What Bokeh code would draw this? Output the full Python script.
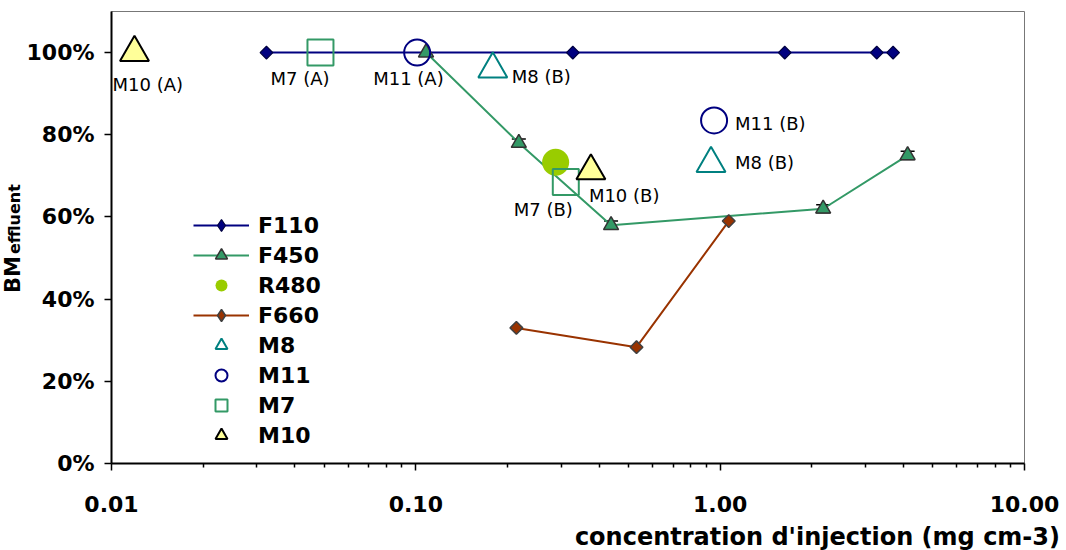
import numpy as np
from bokeh.plotting import figure
from bokeh.layouts import row, column
from bokeh.models import (ColumnDataSource, FixedTicker, NumeralTickFormatter, CustomJSTickFormatter,
                          Legend, LegendItem, Whisker, TeeHead, Range1d, Div)
from bokeh.core.properties import value
from bokeh.embed import file_html
from bokeh.resources import INLINE

# ---------------- data ----------------
f110_x = [0.0323, 0.328, 1.63, 3.27, 3.70]
f110_y = [1.00, 1.00, 1.00, 1.00, 1.00]

f450_x = [0.108, 0.218, 0.438, 2.18, 4.13]
f450_y = [1.00, 0.78, 0.58, 0.62, 0.75]
f450_err = [0.0, 0.010, 0.010, 0.010, 0.010]

f660_x = [0.214, 0.531, 1.067]
f660_y = [0.33, 0.283, 0.59]

r480_x = [0.288]
r480_y = [0.733]

m8_x = [0.179, 0.933]
m8_y = [0.96, 0.73]
m8_lab = ["M8 (B)", "M8 (B)"]

m11_x = [0.101, 0.955]
m11_y = [1.00, 0.835]
m11_lab = ["M11 (A)", "M11 (B)"]

m7_x = [0.0486, 0.311]
m7_y = [1.00, 0.685]
m7_lab = ["M7 (A)", "M7 (B)"]

m10_x = [0.0119, 0.376]
m10_y = [1.00, 0.712]
m10_lab = ["M10 (A)", "M10 (B)"]

x_ticks = [0.01, 0.1, 1, 10]
y_ticks = [0.0, 0.2, 0.4, 0.6, 0.8, 1.0]
x_title = "concentration d'injection (mg cm-3)"
y_title_main = "BM"
y_title_sub = "effluent"

# ---------------- styles ----------------
FONT = "DejaVu Sans"
NAVY = "#000080"
SEA = "#339966"
RUST = "#993300"
LIME = "#99CC00"
TEAL = "#008080"
PALE = "#FFFF99"
YDIV_W = 22
FIG_BOTTOM = 60
FIG_H = 11 + 452 + FIG_BOTTOM

p = figure(frame_width=913, frame_height=452, x_axis_type="log",
           x_range=Range1d(0.01, 10), y_range=Range1d(0, 1.1),
           output_backend="svg", toolbar_location=None,
           min_border_left=111 - YDIV_W, min_border_right=42, min_border_top=11,
           min_border_bottom=FIG_BOTTOM)
p.title.visible = False
p.grid.visible = False
p.outline_line_color = "#777777"
p.outline_line_width = 1
p.background_fill_color = "white"
p.border_fill_color = "white"

minor = [m * 10.0 ** e for e in range(-2, 1) for m in range(2, 10)]
p.xaxis.ticker = FixedTicker(ticks=x_ticks, minor_ticks=minor)
p.xaxis.formatter = CustomJSTickFormatter(code="return tick.toFixed(2);")
p.yaxis.ticker = FixedTicker(ticks=y_ticks, minor_ticks=[])
p.yaxis.formatter = NumeralTickFormatter(format="0%")

for ax in (p.xaxis, p.yaxis):
    ax.axis_line_color = "black"
    ax.axis_line_width = 2
    ax.major_tick_line_color = "black"
    ax.major_tick_line_width = 1.5
    ax.minor_tick_line_color = "black"
    ax.minor_tick_line_width = 1.5
    ax.major_tick_in = 0
    ax.minor_tick_in = 0
    ax.major_label_text_font = FONT
    ax.major_label_text_font_style = "bold"
    ax.major_label_text_font_size = "22px"
    ax.major_label_text_color = "black"
    ax.axis_label = None

p.xaxis.major_tick_out = 7
p.xaxis.minor_tick_out = 4
p.xaxis.major_label_standoff = 25
p.yaxis.major_tick_out = 7
p.yaxis.minor_tick_out = 0
p.yaxis.major_label_standoff = 10

# error bars of F450
wx = [x for x, e in zip(f450_x, f450_err) if e > 0]
wu = [y + e for y, e in zip(f450_y, f450_err) if e > 0]
wl = [y - e for y, e in zip(f450_y, f450_err) if e > 0]
wsrc = ColumnDataSource(dict(x=wx, upper=wu, lower=wl))
p.add_layout(Whisker(source=wsrc, base="x", upper="upper", lower="lower", dimension="height",
                     line_color="black", line_width=1.5,
                     upper_head=TeeHead(size=14, line_color="black", line_width=1.5),
                     lower_head=TeeHead(size=14, line_color="black", line_width=1.5)))

# lines
l110 = p.line(f110_x, f110_y, line_color=NAVY, line_width=2)
l450 = p.line(f450_x, f450_y, line_color=SEA, line_width=2)
l660 = p.line(f660_x, f660_y, line_color=RUST, line_width=2)

# diamonds used by the legend (hidden under the rotated squares in the plot)
d110 = p.scatter(f110_x, f110_y, marker="diamond", size=8,
                 fill_color=NAVY, line_color="#000040", line_width=1.2)
d660 = p.scatter(f660_x, f660_y, marker="diamond", size=8,
                 fill_color=RUST, line_color="#404040", line_width=1.5)

# series markers (diamonds drawn as rotated squares)
s110 = p.scatter(f110_x, f110_y, marker="square", angle=np.pi / 4, size=9,
                 fill_color=NAVY, line_color="#000040", line_width=1.2)
s450 = p.scatter(f450_x, f450_y, marker="triangle", size=15,
                 fill_color=SEA, line_color="#333333", line_width=1.5)
s660 = p.scatter(f660_x, f660_y, marker="square", angle=np.pi / 4, size=9,
                 fill_color=RUST, line_color="#404040", line_width=1.5)

r480 = p.scatter(r480_x, r480_y, marker="circle", size=27, fill_color=LIME, line_color=None)

m8 = p.scatter(m8_x, m8_y, marker="triangle", size=29, fill_color=None, line_color=TEAL, line_width=2)
m11 = p.scatter(m11_x, m11_y, marker="circle", size=26, fill_color=None, line_color=NAVY, line_width=2)
m7 = p.scatter(m7_x, m7_y, marker="square", size=26, fill_color=None, line_color=SEA, line_width=2)
m10 = p.scatter(m10_x, m10_y, marker="triangle", size=29, fill_color=PALE, line_color="black", line_width=2)

# point annotations
ann_text = m10_lab + m7_lab + m11_lab + m8_lab
ann_x = m10_x + m7_x + m11_x + m8_x
ann_y = m10_y + m7_y + m11_y + m8_y
ann_dx = [-22, -2, -50, -52, -44, 21, 19, 24]
ann_dy = [32, 25, 26, 27, 26, 3, 7, -1]
asrc = ColumnDataSource(dict(x=ann_x, y=ann_y, text=ann_text, dx=ann_dx, dy=ann_dy))
p.text(x="x", y="y", text="text", x_offset="dx", y_offset="dy", source=asrc,
       text_font=value(FONT), text_font_size="18px", text_color="black",
       text_align="left", text_baseline="middle")

# legend
legend = Legend(items=[
    LegendItem(label="F110", renderers=[l110, d110]),
    LegendItem(label="F450", renderers=[l450, s450]),
    LegendItem(label="R480", renderers=[r480]),
    LegendItem(label="F660", renderers=[l660, d660]),
    LegendItem(label="M8", renderers=[m8]),
    LegendItem(label="M11", renderers=[m11]),
    LegendItem(label="M7", renderers=[m7]),
    LegendItem(label="M10", renderers=[m10]),
], location=(82, 13))
legend.glyph_width = 56
legend.glyph_height = 30
legend.label_standoff = 9
legend.spacing = 0
legend.padding = 0
legend.margin = 0
legend.border_line_color = None
legend.background_fill_alpha = 0
legend.label_text_font = FONT
legend.label_text_font_style = "bold"
legend.label_text_font_size = "22px"
legend.label_text_color = "black"
p.add_layout(legend)

# y axis title with subscript, as rotated HTML text
ydiv = Div(text=(
    '<div style="white-space:nowrap; transform-origin:0 0; '
    'transform:translate(3px, 293px) rotate(-90deg); '
    "font-family:'DejaVu Sans'; font-weight:bold; font-size:21px; line-height:21px; color:black;\">"
    + y_title_main +
    '<span style="font-size:16px; margin-left:2px;">' + y_title_sub + '</span></div>'),
    width=YDIV_W, height=FIG_H, margin=(0, 0, 0, 0))

# x axis title, right aligned under the axis end
xdiv = Div(text=(
    '<div style="white-space:nowrap; width:1060px; text-align:right; transform:translateY(2px); '
    "font-family:'DejaVu Sans'; font-weight:bold; font-size:24px; line-height:24px; color:black;\">"
    + x_title + '</div>'),
    width=1066, height=550 - FIG_H, margin=(0, 0, 0, 0))

layout = column(row(ydiv, p, spacing=0), xdiv, spacing=0)
open("out.html", "w").write(file_html(layout, INLINE))
